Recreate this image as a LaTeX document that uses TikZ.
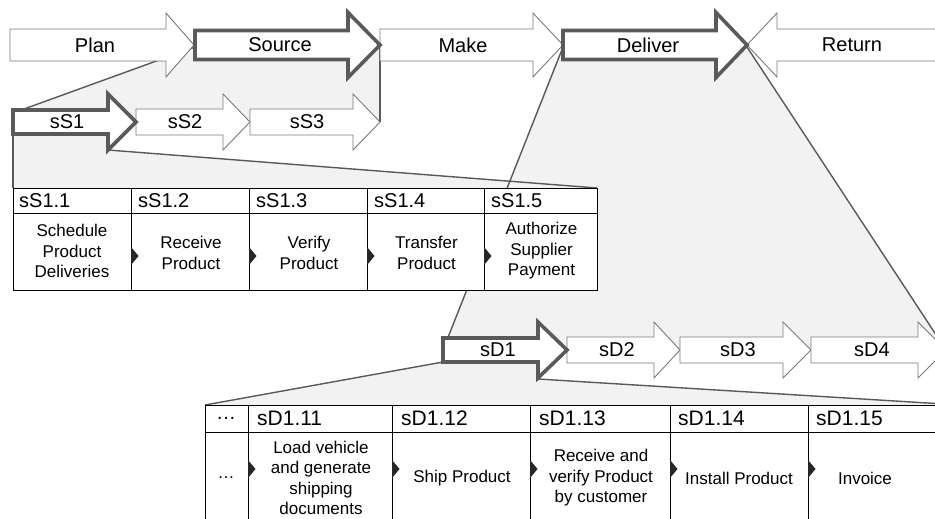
\documentclass[tikz,border=0pt]{standalone}
\usepackage{fontspec}
\setmainfont{Liberation Sans}
\definecolor{zoomfill}{HTML}{F2F2F2}
\definecolor{zoomline}{HTML}{595959}
\definecolor{arrline}{HTML}{7A7A7A}
\definecolor{hiline}{HTML}{5A5A5A}
\newcommand\rarw[7]{\draw[#1] (#2,#5-#6) -- (#3,#5-#6) -- (#3,#5-#7) -- (#4,#5) -- (#3,#5+#7) -- (#3,#5+#6) -- (#2,#5+#6) -- cycle;}
\newcommand\tritick[2]{\fill[black!85] (#1,#2-9) -- (#1+7.5,#2) -- (#1,#2+9) -- cycle;}
\tikzset{
  arrbox/.style={draw=arrline, fill=white, line width=0.9pt, line join=miter},
  hiarr/.style={draw=hiline, fill=white, line width=3.6pt, line join=miter, miter limit=10},
  zoomarea/.style={fill=zoomfill, draw=none},
  zoomedge/.style={draw=zoomline, line width=1.4pt},
  biglabel/.style={font=\fontsize{20}{23}\selectfont, inner sep=0pt},
  hdr/.style={font=\fontsize{20}{23}\selectfont, anchor=west, inner sep=0pt},
  hdrb/.style={font=\fontsize{21}{24}\selectfont, anchor=west, inner sep=0pt},
  cell/.style={font=\fontsize{17}{20.5}\selectfont, align=center, inner sep=0pt},
  gridline/.style={draw=black, line width=0.9pt},
}
\begin{document}
\begin{tikzpicture}[x=1pt,y=-1pt]
\useasboundingbox (0,0) rectangle (935,519);
\clip (0,0) rectangle (935,519);
\fill[white] (0,0) rectangle (935,519);
% zoom areas
\fill[zoomarea] (195,47) -- (380,47) -- (380,122) -- (13,122) -- (13,113) -- cycle;
\fill[zoomarea] (13,122) -- (136,122) -- (108,150) -- (597,188) -- (13,188) -- cycle;
\fill[zoomarea] (563,47) -- (747,47) -- (946,350) -- (443,350) -- cycle;
\fill[zoomarea] (443,350) -- (567,350) -- (538,379) -- (960,405) -- (205,405) -- (443,362) -- cycle;
% zoom edges
\coordinate (zA1) at (195,47); \coordinate (zA2) at (13,113);
\coordinate (zB1) at (380,47); \coordinate (zB2) at (380,122);
\coordinate (zC1) at (13,135); \coordinate (zC2) at (13,188);
\coordinate (zD1) at (108,150); \coordinate (zD2) at (597,188);
\coordinate (zE1) at (563,47); \coordinate (zE2) at (443,350);
\coordinate (zF1) at (747,47); \coordinate (zF2) at (946,350);
\coordinate (zG1) at (443,362); \coordinate (zG2) at (205,405);
\coordinate (zH1) at (538,379); \coordinate (zH2) at (960,405);
\draw[zoomedge] (zA1) -- (zA2);
\draw[zoomedge] (zB1) -- (zB2);
\draw[zoomedge] (zC1) -- (zC2);
\draw[zoomedge] (zD1) -- (zD2);
\draw[zoomedge] (zE1) -- (zE2);
\draw[zoomedge] (zF1) -- (zF2);
\draw[zoomedge] (zG1) -- (zG2);
\draw[zoomedge] (zH1) -- (zH2);
% top row arrows
\rarw{arrbox}{10}{166}{194}{45}{16}{32}
\rarw{arrbox}{380}{533}{563}{45}{16}{32}
\draw[arrbox] (960,29) -- (777,29) -- (777,13) -- (747,45) -- (777,77) -- (777,61) -- (960,61);
\rarw{hiarr}{195}{348}{380}{45}{14.5}{32.5}
\rarw{hiarr}{563}{716}{747}{45}{14.5}{32.5}
% source sub-row
\rarw{arrbox}{136}{223}{250}{122}{13}{28}
\rarw{arrbox}{250}{353}{380}{122}{13}{28}
\rarw{hiarr}{13}{108}{136}{122}{12}{28}
% deliver sub-row
\rarw{arrbox}{567}{654}{680}{350}{13}{28}
\rarw{arrbox}{680}{783}{811}{350}{13}{28}
\rarw{arrbox}{811}{918}{946}{350}{13}{28}
\rarw{hiarr}{443}{538}{567}{350}{12}{28}
% labels
\node[biglabel] (plan) at (95,45) {Plan};
\node[biglabel] (source) at (280,45) {Source};
\node[biglabel] (make) at (463,45) {Make};
\node[biglabel] (deliver) at (648,45) {Deliver};
\node[biglabel] (return) at (852,45) {Return};
\node[biglabel] (ss1) at (67,122) {sS1};
\node[biglabel] (ss2) at (185,122) {sS2};
\node[biglabel] (ss3) at (307,122) {sS3};
\node[biglabel] (sd1) at (498,350) {sD1};
\node[biglabel] (sd2) at (617,350) {sD2};
\node[biglabel] (sd3) at (738,350) {sD3};
\node[biglabel] (sd4) at (872,350) {sD4};
% source table
\fill[white] (13,188) rectangle (597,290);
\draw[gridline] (13,188) rectangle (597,290);
\draw[gridline] (13,213) -- (597,213);
\foreach \xx in {131,249,367,484} {\draw[gridline] (\xx,188) -- (\xx,290);}
\foreach \xx in {131,249,367,484} {\tritick{\xx}{256}}
\node[hdr] (h11) at (19,201) {sS1.1};
\node[hdr] (h12) at (138,201) {sS1.2};
\node[hdr] (h13) at (256,201) {sS1.3};
\node[hdr] (h14) at (374,201) {sS1.4};
\node[hdr] (h15) at (491,201) {sS1.5};
\node[cell] (c11) at (72,251) {Schedule\\Product\\Deliveries};
\node[cell] (c12) at (191,253) {Receive\\Product};
\node[cell] (c13) at (309,253) {Verify\\Product};
\node[cell] (c14) at (426.5,253) {Transfer\\Product};
\node[cell] (c15) at (541.5,251) {Authorize\\Supplier\\Payment};
% deliver table
\fill[white] (205,405) rectangle (960,540);
\draw[gridline] (205,405) rectangle (960,540);
\draw[gridline] (205,432) -- (960,432);
\foreach \xx in {248,392,530,670,808} {\draw[gridline] (\xx,405) -- (\xx,540);}
\foreach \xx in {248,392,530,670,808} {\tritick{\xx}{469}}
\node[biglabel] (h20) at (226,418.5) {\dots};
\node[hdrb] (h21) at (257,418.5) {sD1.11};
\node[hdrb] (h22) at (401,418.5) {sD1.12};
\node[hdrb] (h23) at (539,418.5) {sD1.13};
\node[hdrb] (h24) at (678,418.5) {sD1.14};
\node[hdrb] (h25) at (816,418.5) {sD1.15};
\node[cell] (c20) at (226,478) {\dots};
\node[cell] (c21) at (321,478) {Load vehicle\\and generate\\shipping\\documents};
\node[cell] (c22) at (462,478) {Ship Product};
\node[cell] (c23) at (601,478) {Receive and\\verify Product\\by customer};
\node[cell] (c24) at (739,478) {Install Product};
\node[cell] (c25) at (865,478) {Invoice};
\end{tikzpicture}
\end{document}
